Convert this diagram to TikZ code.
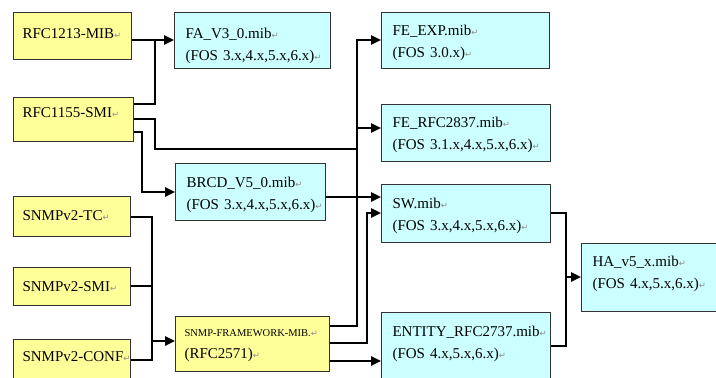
\documentclass[tikz,border=0pt]{standalone}
\usepackage{fontspec}
\setmainfont{Liberation Serif}
\newfontfamily\rmkfont{DejaVu Sans}
\usetikzlibrary{arrows.meta}
\definecolor{myyellow}{RGB}{255,255,153}
\definecolor{mycyan}{RGB}{204,255,255}
\definecolor{bordergray}{RGB}{50,50,50}
\definecolor{rmkgray}{RGB}{140,140,140}
\newcommand\rmk{{\rmkfont\color{rmkgray}\fontsize{8.5}{8.5}\selectfont ↵}}
\newcommand\tl[1]{\mbox{#1\rmk}}
\tikzset{
  base/.style={draw=bordergray, line width=1.1pt, align=left, inner xsep=9pt, inner ysep=0pt,
    anchor=north west, font=\fontsize{15}{22}\selectfont},
  ybox/.style={base, fill=myyellow},
  cbox/.style={base, fill=mycyan, inner xsep=11pt},
  hd/.style 2 args={text height=#1, text depth=#2},
  conn/.style={line width=2.4pt},
  arr/.style={conn, -{Triangle[length=10pt,width=9pt]}}
}
\begin{document}
\begin{tikzpicture}[x=1pt,y=-1pt]
\useasboundingbox (0,0) rectangle (716,378);
% yellow source boxes
\node[ybox, text width=100pt, hd={26pt}{21pt}] (rfc1213) at (13,12) {\tl{RFC1213-MIB}};
\node[ybox, text width=102pt, hd={20pt}{24pt}] (rfc1155) at (13,97) {\tl{RFC1155-SMI}};
\node[ybox, text width=99pt, hd={24pt}{16pt}] (tc) at (13,196) {\tl{SNMPv2-TC}};
\node[ybox, text width=99pt, hd={24pt}{14pt}] (smi) at (13,267) {\tl{SNMPv2-SMI}};
\node[ybox, text width=99pt, hd={22pt}{24pt}] (conf) at (13,339) {\tl{SNMPv2-CONF}};
\node[ybox, text width=136pt, hd={20pt}{35pt}] (fw) at (175,316)
  {\tl{\fontsize{10.5}{12}\selectfont SNMP-FRAMEWORK-MIB.}\\\tl{(RFC2571)}};
% cyan boxes
\node[cbox, text width=134pt, hd={26pt}{30pt}] (fa) at (174,12) {\tl{FA\_V3\_0.mib}\\\tl{(FOS 3.x,4.x,5.x,6.x)}};
\node[cbox, text width=128pt, hd={24pt}{33pt}] (brcd) at (175,163) {\tl{BRCD\_V5\_0.mib}\\\tl{(FOS 3.x,4.x,5.x,6.x)}};
\node[cbox, text width=146pt, hd={23pt}{33pt}] (feexp) at (381,12) {\tl{FE\_EXP.mib}\\\tl{(FOS 3.0.x)}};
\node[cbox, text width=147pt, hd={23pt}{34pt}] (ferfc) at (381,104) {\tl{FE\_RFC2837.mib}\\\tl{(FOS 3.1.x,4.x,5.x,6.x)}};
\node[cbox, text width=147pt, hd={24pt}{34pt}] (sw) at (381,184) {\tl{SW.mib}\\\tl{(FOS 3.x,4.x,5.x,6.x)}};
\node[cbox, text width=147pt, hd={24pt}{46pt}] (entity) at (381,312) {\tl{ENTITY\_RFC2737.mib}\\\tl{(FOS 4.x,5.x,6.x)}};
\node[cbox, text width=123pt, hd={23pt}{45pt}] (ha) at (581,243) {\tl{HA\_v5\_x.mib}\\\tl{(FOS 4.x,5.x,6.x)}};
% junction coordinates
\coordinate (busA) at (357,128);
\coordinate (busB) at (357,197);
\coordinate (swjn) at (566,277);
\coordinate (snjn) at (152,341);
% connectors
\draw[arr] (rfc1213.east |- 0,40) -- (fa.west |- 0,40);
\draw[conn] (rfc1155.east |- 0,104) -| (155,40);
\draw[conn] (rfc1155.east |- 0,119) -| (155,149) -- (357,149);
\draw[arr] (rfc1155.east |- 0,132) -| (142,192) -- (brcd.west |- 0,192);
\draw[conn] (brcd.east |- 0,197) -- (busB);
\draw[arr] (fw.east |- 0,326) -| (357,40) -- (feexp.west |- 0,40);
\draw[arr] (busA) -- (ferfc.west |- busA);
\draw[arr] (busB) -- (sw.west |- busB);
\draw[arr] (fw.east |- 0,343) -| (367,213) -- (sw.west |- 0,213);
\draw[arr] (fw.east |- 0,361) -- (entity.west |- 0,361);
\draw[conn] (sw.east |- 0,213) -| (566,346) -- (entity.east |- 0,346);
\draw[arr] (swjn) -- (ha.west |- swjn);
\draw[conn] (tc.east |- 0,217) -| (152,360) -- (conf.east |- 0,360);
\draw[conn] (smi.east |- 0,286) -- (152,286);
\draw[arr] (snjn) -- (fw.west |- snjn);
\end{tikzpicture}
\end{document}
